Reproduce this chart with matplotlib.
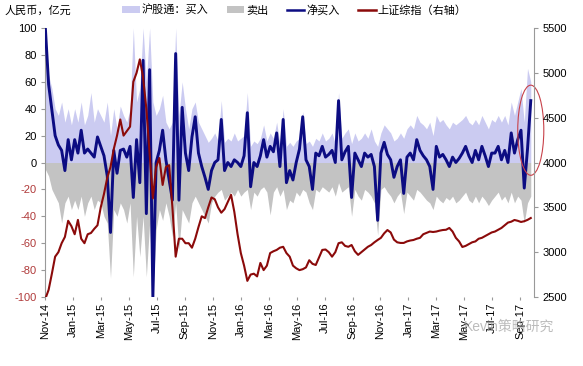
"""
Northbound (Shanghai Connect) daily flows vs SSE Composite
"""

import matplotlib
matplotlib.use("Agg")
import matplotlib.pyplot as plt
import matplotlib.dates as mdates
from matplotlib.patches import Patch, Ellipse
from matplotlib.lines import Line2D
import numpy as np
import pandas as pd

plt.rcParams['font.family'] = ['Liberation Sans', 'Noto Sans CJK SC', 'DejaVu Sans']

# weekly samples, starting 2014-11-17
START = '2014-11-17'
N_POINTS = 150

buy = [100, 65, 55, 40, 35, 45, 30, 40, 28, 40,
       30, 45, 28, 35, 52, 30, 40, 35, 30, 45,
       20, 40, 25, 42, 35, 30, 40, 100, 45, 55,
       100, 60, 100, 45, 35, 40, 50, 30, 25, 30,
       100, 35, 60, 40, 25, 40, 45, 30, 25, 20,
       15, 18, 22, 16, 46, 15, 18, 16, 22, 16,
       18, 20, 52, 12, 16, 14, 18, 28, 16, 22,
       18, 30, 14, 40, 12, 15, 12, 16, 18, 38,
       14, 16, 12, 18, 16, 22, 16, 18, 22, 14,
       52, 18, 22, 25, 14, 22, 16, 18, 22, 18,
       25, 16, 12, 22, 28, 25, 22, 16, 18, 22,
       18, 25, 28, 25, 35, 30, 28, 25, 30, 20,
       35, 30, 32, 28, 25, 30, 28, 30, 32, 35,
       30, 28, 32, 28, 35, 30, 25, 32, 30, 35,
       30, 35, 28, 45, 35, 45, 55, 30, 70, 60]

sell = [-5, -10, -20, -25, -30, -45, -30, -25, -35, -28,
        -35, -25, -40, -30, -25, -35, -28, -30, -40, -45,
        -86, -35, -40, -30, -35, -45, -30, -85, -40, -70,
        -40, -85, -45, -100, -50, -35, -43, -30, -40, -55,
        -30, -65, -35, -40, -45, -30, -25, -30, -35, -40,
        -45, -30, -25, -22, -20, -28, -25, -22, -25, -20,
        -25, -22, -20, -35, -22, -25, -20, -18, -22, -39,
        -22, -18, -25, -20, -35, -28, -30, -22, -25, -20,
        -22, -30, -35, -20, -22, -18, -20, -22, -18, -25,
        -15, -22, -20, -18, -40, -20, -25, -28, -20, -22,
        -25, -30, -54, -20, -18, -22, -25, -30, -25, -22,
        -38, -22, -25, -28, -20, -22, -25, -28, -30, -35,
        -25, -28, -30, -26, -28, -25, -30, -28, -25, -22,
        -28, -30, -25, -30, -25, -28, -32, -28, -25, -22,
        -28, -25, -30, -22, -30, -25, -28, -45, -30, -25]

net_buy = [100, 58, 39, 20, 13, 9, -6, 17, 2, 17,
           7, 24, 7, 10, 7, 4, 19, 12, 5, -10,
           -52, 9, -8, 9, 10, 4, 12, -26, 17, -15,
           76, -38, 69, -100, 0, 9, 24, 2, -13, -28,
           81, -28, 41, 7, -6, 19, 34, 7, -3, -11,
           -20, -6, 0, 2, 32, -6, 0, -3, 2, 0,
           -3, 5, 37, -18, 0, -3, 5, 17, 4, 12,
           8, 22, -3, 32, -15, -6, -13, 0, 10, 34,
           2, -3, -20, 7, 5, 12, 4, 6, 9, 0,
           46, 2, 8, 12, -26, 7, 2, -3, 7, 4,
           6, -3, -43, 7, 15, 6, 2, -11, -3, 2,
           -23, 4, 7, 2, 17, 9, 5, 2, -3, -20,
           12, 4, 6, 2, -3, 4, 0, 3, 7, 12,
           5, 0, 9, 2, 12, 5, -3, 7, 7, 12,
           2, 9, 0, 22, 7, 17, 24, -19, 10, 46]

sse = [2480, 2580, 2760, 2950, 3000, 3100, 3170, 3350, 3290, 3200,
       3360, 3150, 3100, 3200, 3214, 3260, 3300, 3500, 3650, 3830,
       3950, 4150, 4300, 4480, 4300, 4350, 4400, 4900, 5000, 5150,
       4950, 4600, 4100, 3600, 3950, 4050, 3750, 3950, 3970, 3500,
       2950, 3150, 3150, 3100, 3100, 3050, 3150, 3280, 3400, 3380,
       3500, 3610, 3590, 3500, 3440, 3480, 3560, 3640, 3450, 3200,
       2990, 2850, 2680, 2750, 2760, 2730, 2880, 2800, 2850, 2990,
       3010, 3025, 3050, 3060, 2990, 2950, 2850, 2820, 2800, 2810,
       2830, 2910, 2870, 2857, 2940, 3025, 3030, 3000, 2950, 3000,
       3100, 3110, 3070, 3060, 3080, 3010, 2970, 3000, 3030, 3060,
       3080, 3110, 3136, 3160, 3210, 3247, 3220, 3140, 3110, 3103,
       3103, 3120, 3130, 3136, 3150, 3160, 3200, 3215, 3230, 3225,
       3230, 3240, 3247, 3250, 3270, 3230, 3160, 3120, 3058, 3070,
       3090, 3110, 3120, 3150, 3160, 3180, 3200, 3220, 3230, 3250,
       3270, 3300, 3330, 3340, 3359, 3350, 3337, 3345, 3360, 3381]

left_ticks = list(range(-100, 101, 20))
right_ticks = list(range(2500, 5501, 500))

LAVENDER = '#cbcbf1'
GREY = '#c3c3c3'
NAVY = '#0c0c82'
DARKRED = '#8b0a0a'
NEG_RED = '#b03a3a'

dates = pd.date_range(START, periods=N_POINTS, freq='7D')

fig = plt.figure(figsize=(5.83, 3.66), dpi=100)
ax = fig.add_axes([0.077, 0.1885, 0.839, 0.735])

ax.fill_between(dates, 0, buy, color=LAVENDER, lw=0, zorder=1)
ax.fill_between(dates, 0, sell, color=GREY, lw=0, zorder=1)
ax.plot(dates, net_buy, color=NAVY, lw=2.1, zorder=3)

ax.set_ylim(-100, 100)
ax.set_yticks(left_ticks)
ax.set_yticklabels([str(v) for v in left_ticks], fontsize=8)
for lbl, v in zip(ax.get_yticklabels(), left_ticks):
    lbl.set_color(NEG_RED if v < 0 else 'black')

ax.set_xlim(pd.Timestamp('2014-11-16'), pd.Timestamp('2017-10-02'))
xticks = pd.date_range(START, periods=18, freq='60D')
ax.set_xticks(xticks)
ax.xaxis.set_major_formatter(mdates.DateFormatter('%b-%y'))
plt.setp(ax.get_xticklabels(), rotation=90, fontsize=8)
ax.tick_params(axis='x', length=2, color='#999999', pad=2)
ax.tick_params(axis='y', length=3, color='#999999', pad=3)

for s in ['top', 'bottom', 'right']:
    ax.spines[s].set_visible(False)
ax.spines['left'].set_color('#999999')

ax2 = ax.twinx()
ax2.plot(dates, sse, color=DARKRED, lw=1.5, zorder=4)
ax2.set_ylim(2500, 5500)
ax2.set_yticks(right_ticks)
ax2.set_yticklabels([str(v) for v in right_ticks], fontsize=8)
ax2.tick_params(axis='y', length=3, color='#999999', pad=3)
for s in ['top', 'bottom', 'left']:
    ax2.spines[s].set_visible(False)
ax2.spines['right'].set_color('#999999')

# red circle around the latest spike
ell = Ellipse((mdates.date2num(pd.Timestamp('2017-09-25')), 24), width=56, height=67,
              transform=ax.transData, fill=False, ec='#c8424a', lw=0.8,
              clip_on=False, zorder=6)
ax.add_patch(ell)

handles = [Patch(fc=LAVENDER, ec='none'),
           Patch(fc=GREY, ec='none'),
           Line2D([], [], color=NAVY, lw=1.8),
           Line2D([], [], color=DARKRED, lw=1.8)]
labels = ['沪股通：买入', '卖出', '净买入', '上证综指（右轴）']
fig.legend(handles, labels, loc='center', bbox_to_anchor=(0.505, 0.972), ncol=4,
           frameon=False, fontsize=8, handlelength=1.6, handleheight=0.6,
           handletextpad=0.2, columnspacing=1.6)

fig.text(0.008, 0.972, '人民币，亿元', fontsize=8, va='center', ha='left')
# watermark sits over the tick labels, as in the source image
fig.text(0.795, 0.107, 'Kevin策略研究', fontsize=10, color='#a0a0a0', alpha=0.7,
         va='center', ha='left', zorder=10)

fig.savefig('out.png', dpi=100)
